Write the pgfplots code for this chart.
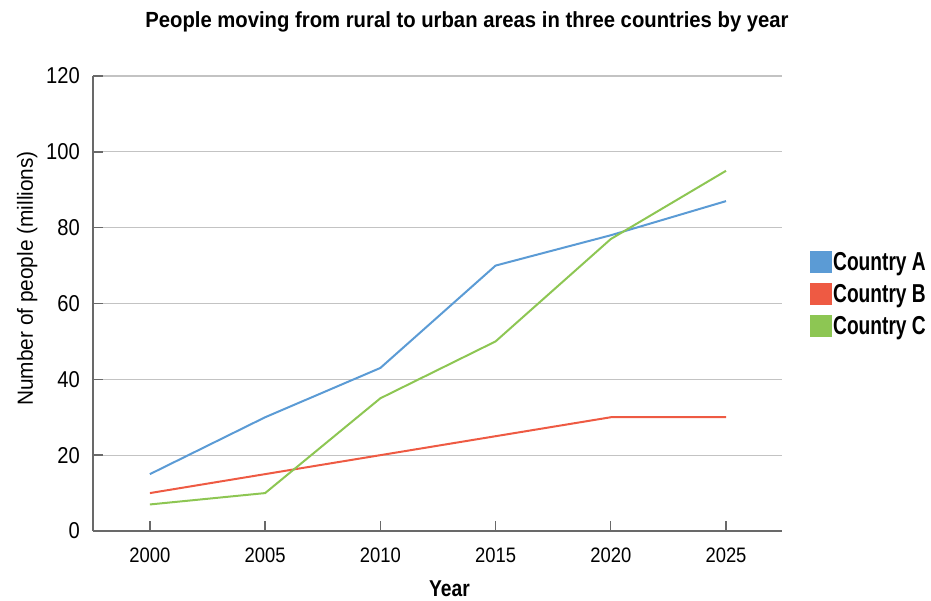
\documentclass[border=0pt]{standalone}
\usepackage{fontspec}
\setmainfont{Liberation Sans}
\newfontfamily\tickfont{Liberation Sans}[FakeStretch=0.88]
\newfontfamily\titlefont{Liberation Sans Bold}[FakeStretch=0.925]
\newfontfamily\legfont{Liberation Sans Bold}[FakeStretch=0.74]
\newfontfamily\xlabfont{Liberation Sans Bold}[FakeStretch=0.84]
\newfontfamily\ylabfont{Liberation Sans}[FakeStretch=0.95]
\usepackage{pgfplots}
\pgfplotsset{compat=1.18}
\definecolor{cA}{RGB}{91,155,213}
\definecolor{cB}{RGB}{238,90,67}
\definecolor{cC}{RGB}{141,198,83}
\definecolor{axgray}{RGB}{105,105,105}
\definecolor{gridgray}{RGB}{195,195,195}
\begin{document}
\begin{tikzpicture}
\begin{axis}[
    scale only axis,
    width=689bp, height=455bp,
    xmin=1997.53, xmax=2027.43,
    ymin=0, ymax=120,
    xtick={2000,2005,...,2025},
    ytick={0,20,...,120},
    axis x line*=bottom,
    axis y line*=left,
    axis line style={axgray, line width=1.4bp},
    tick style={axgray, line width=1.4bp},
    major tick length=10bp,
    tick align=inside,
    ymajorgrids=true,
    major grid style={gridgray, line width=1.3bp},
    /pgf/number format/assume math mode=true,
    /pgf/number format/1000 sep={},
    yticklabel style={font=\tickfont\fontsize{23}{27}\selectfont, anchor=east, inner sep=0pt, xshift=-13bp},
    xticklabel style={font=\tickfont\fontsize{21}{25}\selectfont, anchor=base, inner sep=0pt, yshift=-31bp},
    title={People moving from rural to urban areas in three countries by year},
    title style={font=\titlefont\fontsize{22}{26}\selectfont, at={(0.5428,1)}, anchor=base, inner sep=0pt, yshift=43bp},
    ylabel={Number of people (millions)},
    ylabel style={font=\ylabfont\fontsize{22}{26}\selectfont, at={(0,0.555)}, anchor=base, inner sep=0pt, yshift=60bp},
    xlabel={Year},
    xlabel style={font=\xlabfont\fontsize{23}{27}\selectfont, at={(0.5174,0)}, anchor=base, inner sep=0pt, yshift=-65bp},
    legend style={at={(1.0406,0.521)}, anchor=west, draw=none, fill=none,
        font=\legfont\fontsize{26}{30}\selectfont, row sep=10bp, inner sep=0pt,
        nodes={inner sep=1bp}},
    legend cell align=left,
    legend image code/.code={\fill[#1] (0bp,-10bp) rectangle (20bp,10bp);},
    every axis plot/.append style={line width=2bp},
]
\addplot[cA] coordinates {(2000,15) (2005,30) (2010,43) (2015,70) (2020,78) (2025,87)};
\addlegendentry{Country A}
\addplot[cB] coordinates {(2000,10) (2005,15) (2010,20) (2015,25) (2020,30) (2025,30)};
\addlegendentry{Country B}
\addplot[cC] coordinates {(2000,7) (2005,10) (2010,35) (2015,50) (2020,77) (2025,95)};
\addlegendentry{Country C}
\end{axis}
\pgfresetboundingbox
\path[use as bounding box] (-93bp,-70bp) rectangle (838bp,531bp);
\end{tikzpicture}
\end{document}
